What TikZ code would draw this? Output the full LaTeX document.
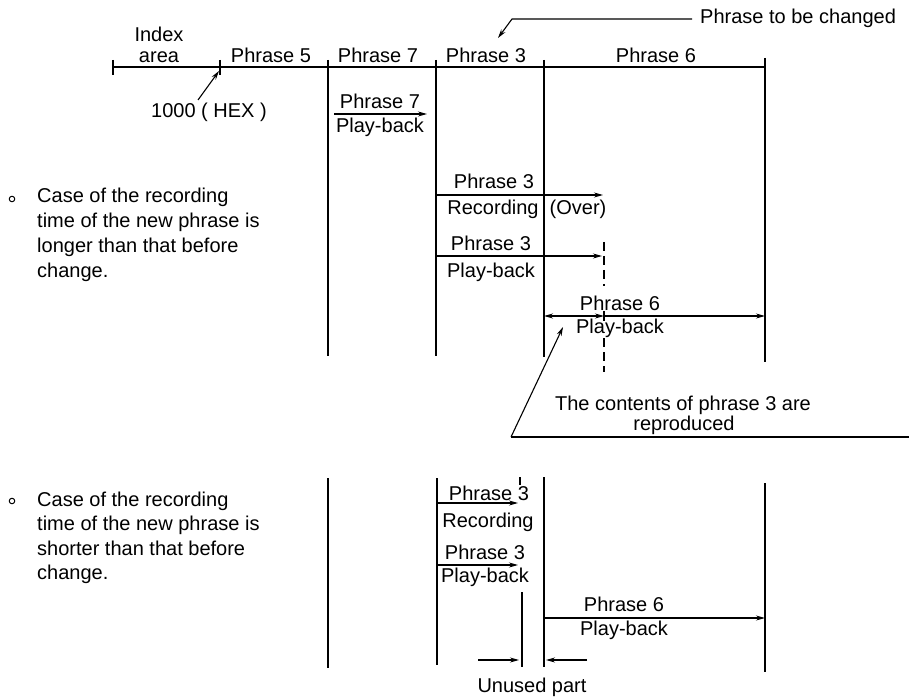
\documentclass[tikz,border=0pt]{standalone}
\usepackage{fontspec}
\setmainfont{Liberation Sans}
\usetikzlibrary{arrows.meta}
\begin{document}
\begin{tikzpicture}[x=1pt,y=-1pt,
  font=\fontsize{20}{24.7}\selectfont,
  txt/.style={inner sep=0pt, anchor=base},
  ltxt/.style={inner sep=0pt, anchor=base west},
  bar/.style={line width=1.8pt},
  axisline/.style={line width=1.4pt},
  arr/.style={line width=1.1pt, -{Stealth[length=9pt,width=5pt]}},
  darr/.style={line width=1.1pt, {Stealth[length=9pt,width=5pt]}-{Stealth[length=9pt,width=5pt]}},
  dashline/.style={line width=1.4pt, dash pattern=on 9pt off 5pt},
  bulletmark/.style={circle, draw, line width=1pt, minimum size=5.5pt, inner sep=0pt},
]
\useasboundingbox (0,0) rectangle (909,700);

% ---------- top scale ----------
\coordinate (s0) at (113,67); \coordinate (s1) at (765,67);
\draw[axisline] (s0) -- (s1);
\draw[axisline] (113,60) -- (113,75);
\draw[axisline] (220,60) -- (220,75);
\draw[bar] (328,60) -- (328,356);
\draw[bar] (436,60) -- (436,356);
\draw[bar] (544,60) -- (544,357);
\draw[bar] (765,58) -- (765,362);

\node[txt] (index) at (159,42) {Index};
\node[txt] (area) at (159,63) {area};
\node[txt] (p5) at (271,63) {Phrase 5};
\node[txt] (p7) at (378,63) {Phrase 7};
\node[txt] (p3) at (486,63) {Phrase 3};
\node[txt] (p6) at (656,63) {Phrase 6};

\node[ltxt] (ptc) at (700,24) {Phrase to be changed};
\coordinate (ptcA) at (692,19);
\coordinate (ptcB) at (512,19);
\coordinate (ptcTip) at (498,38);
\draw[arr] (ptcA) -- (ptcB) -- (ptcTip);

\node[txt] (hex) at (209,118) {1000 ( HEX )};
\coordinate (hexA) at (198,100);
\coordinate (hexTip) at (219,71);
\draw[arr] (hexA) -- (hexTip);

% Phrase 7 play-back
\node[txt] (p7t) at (380,109) {Phrase 7};
\coordinate (p7a) at (334,114); \coordinate (p7b) at (427,114);
\draw[arr] (p7a) -- (p7b);
\node[txt] (p7pb) at (380,133) {Play-back};

% ---------- case 1 ----------
\node[bulletmark] (b1) at (12,199) {};
\node[ltxt] (c1a) at (37,203) {Case of the recording};
\node[ltxt] (c1b) at (37,227.7) {time of the new phrase is};
\node[ltxt] (c1c) at (37,252.4) {longer than that before};
\node[ltxt] (c1d) at (37,277) {change.};

\node[txt] (r1t) at (494,189) {Phrase 3};
\coordinate (r1a) at (436,195); \coordinate (r1b) at (603,195);
\draw[arr] (r1a) -- (r1b);
\node[txt] (r1rec) at (493,215) {Recording};
\node[txt] (r1over) at (578,215) {(Over)};

\node[txt] (q1t) at (491,251) {Phrase 3};
\coordinate (q1a) at (436,256); \coordinate (q1b) at (602,256);
\draw[arr] (q1a) -- (q1b);
\node[txt] (q1pb) at (491,277) {Play-back};

\draw[dashline] (604,242) -- (604,286);
\draw[line width=1.4pt] (604,311) -- (604,321);
\draw[dashline] (604,338) -- (604,372);

\node[txt] (s1t) at (620,310) {Phrase 6};
\coordinate (s1a) at (544,316); \coordinate (s1m) at (604,316); \coordinate (s1b) at (765,316);
\draw[darr] (s1a) -- (s1m);
\draw[arr] (s1m) -- (s1b);
\node[txt] (s1pb) at (620,333) {Play-back};

% annotation
\node[txt] (ann1) at (683,410) {The contents of phrase 3 are};
\node[txt] (ann2) at (684,430) {reproduced};
\coordinate (annR) at (909,437);
\coordinate (annL) at (511,437);
\coordinate (annTip) at (563,327);
\draw[line width=1.1pt] (annR) -- (annL);
\draw[arr] (annL) -- (annTip);

% ---------- case 2 ----------
\node[bulletmark] (b2) at (12,501) {};
\node[ltxt] (c2a) at (37,506) {Case of the recording};
\node[ltxt] (c2b) at (37,530.5) {time of the new phrase is};
\node[ltxt] (c2c) at (37,555) {shorter than that before};
\node[ltxt] (c2d) at (37,579.5) {change.};

\draw[bar] (328,478) -- (328,668);
\draw[bar] (437,478) -- (437,665);
\draw[bar] (544,477) -- (544,667);
\draw[bar] (765,483) -- (765,672);
\draw[bar] (522,592) -- (522,667);
\draw[line width=1.4pt] (520,477) -- (520,485);

\node[txt] (r2t) at (489,500) {Phrase 3};
\coordinate (r2a) at (437,503); \coordinate (r2b) at (518,503);
\draw[arr] (r2a) -- (r2b);
\node[txt] (r2rec) at (488,527) {Recording};

\node[txt] (q2t) at (485,559) {Phrase 3};
\coordinate (q2a) at (437,565); \coordinate (q2b) at (518,565);
\draw[arr] (q2a) -- (q2b);
\node[txt] (q2pb) at (485,582) {Play-back};

\node[txt] (s2t) at (624,611) {Phrase 6};
\coordinate (s2a) at (545,618); \coordinate (s2b) at (765,618);
\draw[arr] (s2a) -- (s2b);
\node[txt] (s2pb) at (624,635) {Play-back};

\coordinate (u1a) at (478,660); \coordinate (u1b) at (519,660);
\coordinate (u2a) at (587,660); \coordinate (u2b) at (546,660);
\draw[arr] (u1a) -- (u1b);
\draw[arr] (u2a) -- (u2b);
\node[txt] (unused) at (532,692) {Unused part};
\end{tikzpicture}
\end{document}
